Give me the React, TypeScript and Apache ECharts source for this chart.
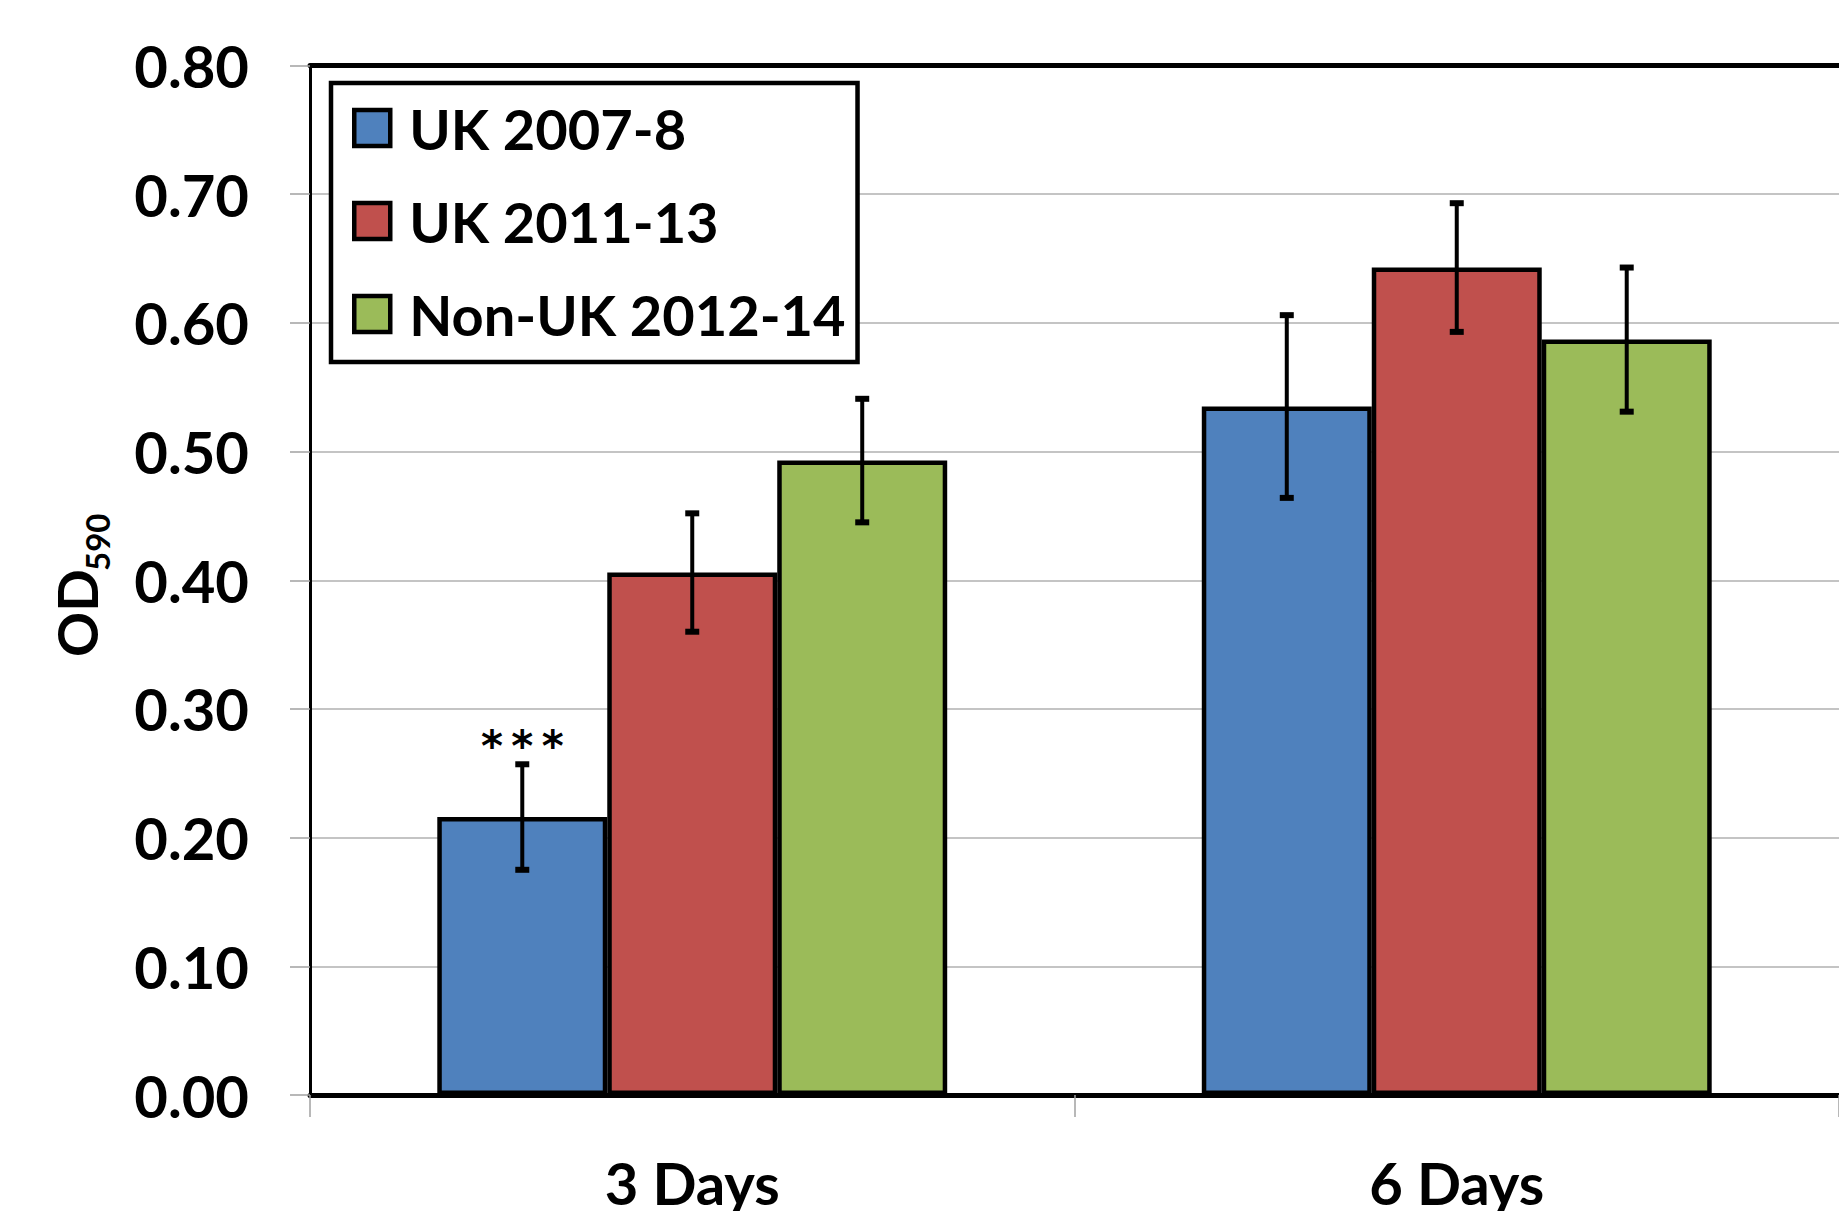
import React, { useEffect, useRef } from "react";
import * as echarts from "echarts";

const categories = ["3 Days", "6 Days"];
const seriesNames = ["UK 2007-8", "UK 2011-13", "Non-UK 2012-14"];
const seriesColors = ["#4F81BD", "#C0504D", "#9BBB59"];
const uk2007Values = [0.216, 0.535];
const uk2011Values = [0.406, 0.643];
const nonUkValues = [0.493, 0.587];
const uk2007Err = [0.041, 0.071];
const uk2011Err = [0.046, 0.05];
const nonUkErr = [0.048, 0.056];
const uk2007Sig = ["***", ""];
const uk2011Sig = ["", ""];
const nonUkSig = ["", ""];
const yMin = 0;
const yMax = 0.8;
const yInterval = 0.1;

const FONT = "Lato, 'Open Sans', sans-serif";
const CAT_GAP = 0.333;

export default function App() {
  const ref = useRef<HTMLDivElement>(null);
  useEffect(() => {
    if (!ref.current) return;
    const chart = echarts.init(ref.current, undefined, { renderer: "svg" });
    const values = [uk2007Values, uk2011Values, nonUkValues];
    const errs = [uk2007Err, uk2011Err, nonUkErr];
    const sigs = [uk2007Sig, uk2011Sig, nonUkSig];

    const barSeries = seriesNames.map((name, i) => ({
      name,
      type: "bar",
      xAxisIndex: 0,
      data: values[i],
      barGap: "0%",
      barCategoryGap: CAT_GAP * 100 + "%",
      itemStyle: { color: seriesColors[i], borderColor: "#000", borderWidth: 4.5 },
      z: 2,
    }));

    const errSeries = seriesNames.map((name, i) => ({
      name: name + " error",
      type: "custom",
      xAxisIndex: 0,
      z: 10,
      encode: { x: 0, y: [1, 2] },
      data: values[i].map((v, k) => [k, v - errs[i][k], v + errs[i][k]]),
      renderItem: (params: any, api: any) => {
        const k = api.value(0);
        const lo = api.coord([k, api.value(1)]);
        const hi = api.coord([k, api.value(2)]);
        const band = api.size([1, 0])[0];
        const barW = (band * (1 - CAT_GAP)) / 3;
        const x = lo[0] + (i - 1) * barW;
        const cap = 7;
        const style = { stroke: "#000", lineWidth: 4 };
        const children: any[] = [
          { type: "line", shape: { x1: x, y1: hi[1], x2: x, y2: lo[1] }, style },
          { type: "line", shape: { x1: x - cap, y1: hi[1], x2: x + cap, y2: hi[1] }, style: { stroke: "#000", lineWidth: 6 } },
          { type: "line", shape: { x1: x - cap, y1: lo[1], x2: x + cap, y2: lo[1] }, style: { stroke: "#000", lineWidth: 6 } },
        ];
        const s = sigs[i][params.dataIndex];
        if (s) {
          children.push({
            type: "text",
            style: {
              text: s.split("").join("\u2009"),
              x: x,
              y: hi[1] + 3,
              textAlign: "center",
              textVerticalAlign: "bottom",
              fontSize: 42,
              fontWeight: "bold",
              fontFamily: "'DejaVu Sans', sans-serif",
              fill: "#000",
            },
          });
        }
        return { type: "group", children };
      },
    }));

    chart.setOption({
      animation: false,
      backgroundColor: "#fff",
      grid: { left: 310, top: 65.5, width: 1542, height: 1035, containLabel: false },
      legend: {
        data: seriesNames,
        orient: "vertical",
        left: 331,
        top: 83,
        itemWidth: 36,
        itemHeight: 36,
        itemGap: 37,
        padding: [17, 12, 20, 21],
        borderColor: "#000",
        borderWidth: 4.5,
        backgroundColor: "#fff",
        icon: "rect",
        itemStyle: { borderColor: "#000", borderWidth: 4.5 },
        textStyle: {
          fontSize: 56,
          fontWeight: "bold",
          fontFamily: FONT,
          color: "#000",
          lineHeight: 52,
          padding: [0, 0, 0, 14],
        },
      },
      xAxis: [
        {
          type: "category",
          data: categories,
          position: "bottom",
          axisLine: { show: true, lineStyle: { color: "#000", width: 5 } },
          axisTick: { show: true, length: 22, lineStyle: { color: "#a0a0a0", width: 1.5 } },
          axisLabel: {
            fontSize: 58,
            fontWeight: "bold",
            fontFamily: FONT,
            color: "#000",
            margin: 58,
          },
          splitLine: { show: false },
        },
        {
          type: "category",
          data: categories,
          position: "top",
          axisLine: { show: true, lineStyle: { color: "#000", width: 5 } },
          axisTick: { show: false },
          axisLabel: { show: false },
          splitLine: { show: false },
        },
      ],
      yAxis: {
        type: "value",
        min: yMin,
        max: yMax,
        interval: yInterval,
        axisLine: { show: true, lineStyle: { color: "#000", width: 3 } },
        axisTick: { show: true, length: 20, lineStyle: { color: "#a0a0a0", width: 1.5 } },
        splitLine: { show: true, lineStyle: { color: "#b0b0b0", width: 1.5 } },
        axisLabel: {
          fontSize: 58,
          fontWeight: "bold",
          fontFamily: FONT,
          color: "#000",
          margin: 61,
          formatter: (v: number) => v.toFixed(2),
        },
      },
      graphic: [
        {
          type: "group",
          x: 76,
          y: 657,
          rotation: Math.PI / 2,
          children: [
            {
              type: "text",
              x: 0,
              y: 0,
              style: {
                text: "OD",
                textAlign: "left",
                textVerticalAlign: "middle",
                fontSize: 56,
                fontWeight: "bold",
                fontFamily: FONT,
                fill: "#000",
              },
            },
            {
              type: "text",
              x: 86,
              y: 21,
              style: {
                text: "590",
                textAlign: "left",
                textVerticalAlign: "middle",
                fontSize: 33,
                fontWeight: "bold",
                fontFamily: FONT,
                fill: "#000",
              },
            },
          ],
        },
      ],
      series: [...barSeries, ...errSeries],
    });
    return () => chart.dispose();
  }, []);
  return (
    <div
      ref={ref}
      style={{ position: "fixed", left: 0, top: 0, width: 1839, height: 1211, background: "#fff" }}
    />
  );
}
